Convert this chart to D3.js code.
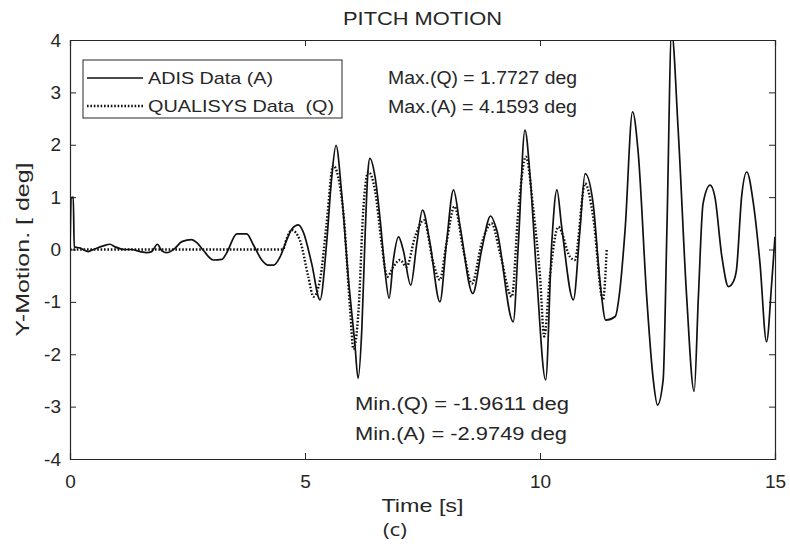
<!DOCTYPE html>
<html><head><meta charset="utf-8">
<script src="https://cdn.jsdelivr.net/npm/d3@7"></script>
<style>body{margin:0;background:#fff;} text{font-family:"Liberation Sans",Arial,sans-serif;fill:#262626;}</style>
</head><body>
<svg id="chart" width="790" height="544"></svg>
<script>
const adisTime = [0.00,0.03,0.07,0.09,0.21,0.39,0.50,0.71,0.85,0.96,1.17,1.31,1.49,1.63,1.74,1.86,1.95,2.06,2.23,2.38,2.59,2.70,2.84,3.05,3.23,3.33,3.55,3.76,3.90,4.08,4.22,4.33,4.47,4.61,4.72,4.86,4.96,5.14,5.32,5.46,5.57,5.66,5.78,5.92,6.06,6.13,6.21,6.28,6.34,6.38,6.49,6.60,6.70,6.79,6.88,6.99,7.09,7.25,7.38,7.50,7.66,7.87,8.01,8.16,8.30,8.57,8.76,8.95,9.08,9.43,9.54,9.68,9.79,9.93,10.12,10.25,10.36,10.46,10.71,10.85,10.96,11.13,11.28,11.40,11.60,11.70,11.81,11.97,12.09,12.27,12.41,12.50,12.62,12.70,12.80,12.94,13.12,13.28,13.37,13.47,13.62,13.72,13.87,14.01,14.11,14.18,14.29,14.40,14.54,14.68,14.82,14.93,15.00];
const adisValue = [0.00,0.99,1.00,0.05,0.03,-0.04,0.00,0.07,0.10,0.05,0.00,0.00,-0.04,-0.06,-0.04,0.10,-0.02,-0.06,0.02,0.15,0.19,0.13,-0.02,-0.20,-0.19,-0.07,0.30,0.30,0.09,-0.20,-0.30,-0.30,-0.14,0.18,0.39,0.47,0.34,-0.26,-0.96,0.12,1.39,1.99,1.07,-0.52,-1.79,-2.46,-1.50,0.30,1.50,1.74,1.39,0.56,-0.39,-0.93,-0.20,0.24,-0.01,-0.68,0.12,0.75,0.12,-1.00,0.12,1.14,0.44,-0.84,0.00,0.64,0.37,-1.38,0.12,2.28,1.39,-0.52,-2.49,0.12,1.14,0.44,-0.96,0.37,1.45,0.88,-0.64,-1.35,-1.28,-0.77,0.37,2.63,1.84,-0.90,-2.49,-2.97,-2.49,0.37,4.16,2.28,-0.90,-2.71,-0.90,0.88,1.23,1.01,-0.14,-0.71,-0.62,-0.39,1.01,1.48,0.88,-0.26,-1.76,-0.64,0.24];

const qualTime = [0.00,4.53,4.61,4.72,4.89,5.07,5.18,5.32,5.46,5.60,5.81,5.96,6.03,6.14,6.24,6.35,6.49,6.63,6.75,6.88,7.02,7.16,7.34,7.53,7.73,7.87,8.01,8.18,8.37,8.55,8.76,8.97,9.15,9.40,9.54,9.70,9.86,10.00,10.09,10.21,10.39,10.64,10.74,10.96,11.13,11.34,11.42];
const qualValue = [0.00,0.00,0.21,0.37,0.18,-0.52,-0.90,-0.58,0.50,1.60,0.76,-1.15,-1.90,-1.15,0.76,1.48,1.13,0.12,-0.52,-0.33,-0.20,-0.33,0.24,0.56,-0.26,-0.58,0.12,0.82,-0.01,-0.65,0.12,0.50,-0.07,-0.90,0.75,1.77,0.75,-0.52,-1.66,-0.52,0.43,-0.14,-0.20,1.26,0.63,-0.96,0.02];

const xTicks = [0,5,10,15];
const yTicks = [-4,-3,-2,-1,0,1,2,3,4];
const seriesNames = ["ADIS Data (A)","QUALISYS Data  (Q)"];
const maxLabels = ["Max.(Q) = 1.7727 deg","Max.(A) = 4.1593 deg"];
const minLabels = ["Min.(Q) = -1.9611 deg","Min.(A) = -2.9749 deg"];

const svg = d3.select("#chart");
const L=70,R=775,T=40,B=459;
const x = d3.scaleLinear().domain([0,15]).range([L,R]);
const y = d3.scaleLinear().domain([-4,4]).range([B,T]);
const ink="#262626";
const fmt = d => String(d);

svg.append("defs").append("clipPath").attr("id","clip")
  .append("rect").attr("x",L).attr("y",T).attr("width",R-L).attr("height",B-T);

const tickLen=6;
const gx = svg.append("g").attr("transform",`translate(0,${B})`)
  .call(d3.axisBottom(x).tickValues(xTicks).tickSize(-tickLen).tickPadding(16).tickFormat(fmt));
const gxt = svg.append("g").attr("transform",`translate(0,${T})`)
  .call(d3.axisTop(x).tickValues(xTicks).tickSize(-tickLen).tickFormat(""));
const gy = svg.append("g").attr("transform",`translate(${L},0)`)
  .call(d3.axisLeft(y).tickValues(yTicks).tickSize(-tickLen).tickPadding(9).tickFormat(fmt));
const gyr = svg.append("g").attr("transform",`translate(${R},0)`)
  .call(d3.axisRight(y).tickValues(yTicks).tickSize(-tickLen).tickFormat(""));
[gx,gxt,gy,gyr].forEach(g=>{
  g.select(".domain").attr("stroke",ink).attr("stroke-width",1.2);
  g.selectAll(".tick line").attr("stroke",ink);
  g.selectAll(".tick text").attr("font-size",19).attr("fill",ink).attr("font-family","Liberation Sans, Arial, sans-serif");
});

const plot = svg.append("g").attr("clip-path","url(#clip)");
const adis = adisTime.map((t,i)=>[t,adisValue[i]]);
const qual = qualTime.map((t,i)=>[t,qualValue[i]]);
const line = d3.line().x(d=>x(d[0])).y(d=>y(d[1])).curve(d3.curveMonotoneX);
plot.append("path").datum(qual).attr("d",line).attr("fill","none")
  .attr("stroke","#111").attr("stroke-width",2.4).attr("stroke-dasharray","1.6,1.8");
plot.append("path").datum(adis).attr("d",line).attr("fill","none")
  .attr("stroke","#111").attr("stroke-width",1.7);

function txt(xp, yp, s, fs, len, anchor){
  const t = svg.append("text").attr("x",xp).attr("y",yp).attr("font-size",fs)
    .attr("xml:space","preserve").style("white-space","pre").text(s);
  if(anchor) t.attr("text-anchor",anchor);
  if(len) t.attr("textLength",len).attr("lengthAdjust","spacingAndGlyphs");
  return t;
}
txt((L+R)/2, 25, "PITCH MOTION", 17.5, 159, "middle");
txt((L+R)/2, 512, "Time [s]", 19, 82, "middle");
svg.append("text").attr("transform",`translate(29,${(T+B)/2}) rotate(-90)`).attr("text-anchor","middle")
  .attr("font-size",19).attr("textLength",174).attr("lengthAdjust","spacingAndGlyphs").text("Y-Motion. [ deg]");
txt(395, 536, "(c)", 18, 24, "middle").style("font-family","'Open Sans', sans-serif");

const lg = svg.append("g");
lg.append("rect").attr("x",83).attr("y",60).attr("width",259).attr("height",58).attr("fill","#fff").attr("stroke",ink).attr("stroke-width",1);
const rows=[78,106];
lg.append("line").attr("x1",87).attr("x2",143).attr("y1",rows[0]).attr("y2",rows[0]).attr("stroke","#111").attr("stroke-width",1.7);
lg.append("line").attr("x1",87).attr("x2",143).attr("y1",rows[1]).attr("y2",rows[1]).attr("stroke","#111").attr("stroke-width",2.4).attr("stroke-dasharray","1.6,1.8");
const legLen=[125,186];
seriesNames.forEach((n,i)=>txt(148, rows[i]+6, n, 17, legLen[i]));

maxLabels.forEach((s,i)=>txt(388, 84+i*29, s, 17.5, 189));
const minLen=[214,212];
minLabels.forEach((s,i)=>txt(355, 410+i*30, s, 18, minLen[i]));
</script>
</body></html>
